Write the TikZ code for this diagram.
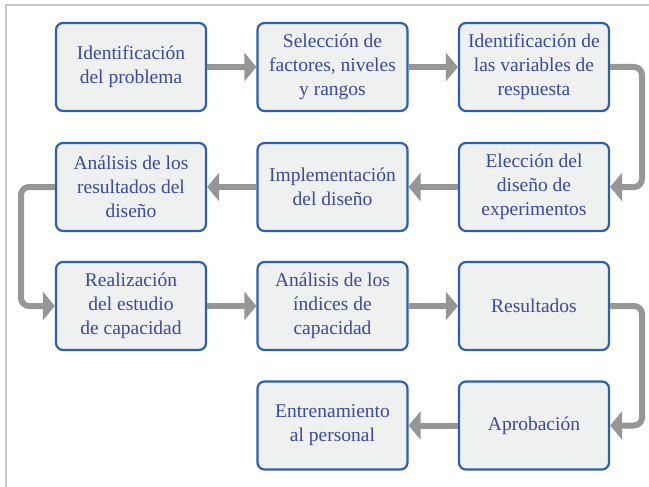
\documentclass[tikz,border=0pt]{standalone}
\usepackage{fontspec}
\setmainfont{Liberation Serif}
\usetikzlibrary{arrows.meta}
\definecolor{boxblue}{RGB}{45,95,175}
\definecolor{boxfill}{RGB}{239,241,241}
\definecolor{txtblue}{RGB}{58,74,158}
\definecolor{arrgray}{RGB}{150,150,150}
\definecolor{framegray}{RGB}{200,200,200}
\tikzset{
  stepbox/.style={draw=boxblue, line width=2.2pt, fill=boxfill, rounded corners=7pt,
    minimum width=150pt, minimum height=88pt, inner sep=0pt, align=center,
    text=txtblue, font=\fontsize{19.5}{24}\selectfont},
  flow/.style={draw=arrgray, line width=6pt, rounded corners=8pt,
    -{Triangle[length=12pt,width=28pt]}},
}
\begin{document}
\begin{tikzpicture}[x=1pt,y=-1pt]
\useasboundingbox (0,0) rectangle (649,487);
\draw[framegray, line width=1.5pt] (6,487) -- (6,5) -- (649,5);
\node[stepbox] (a1) at (131,67) {Identificación\\del problema};
\node[stepbox] (a2) at (332.5,67) {Selección de\\factores, niveles\\y rangos};
\node[stepbox] (a3) at (534,67) {Identificación de\\las variables de\\respuesta};
\node[stepbox] (b3) at (534,187) {Elección del\\diseño de\\experimentos};
\node[stepbox] (b2) at (332.5,187) {Implementación\\del diseño};
\node[stepbox] (b1) at (131,187) {Análisis de los\\resultados del\\diseño};
\node[stepbox] (c1) at (131,306) {Realización\\del estudio\\de capacidad};
\node[stepbox] (c2) at (332.5,306) {Análisis de los\\índices de\\capacidad};
\node[stepbox] (c3) at (534,306) {Resultados};
\node[stepbox] (d3) at (534,425.5) {Aprobación};
\node[stepbox] (d2) at (332.5,425.5) {Entrenamiento\\al personal};
\coordinate (r1) at (642,67);
\coordinate (r2) at (642,187);
\coordinate (l1) at (21,187);
\coordinate (l2) at (21,306);
\coordinate (r3) at (642,306);
\coordinate (r4) at (642,425.5);
\draw[flow] (a1) -- (a2);
\draw[flow] (a2) -- (a3);
\draw[flow] (a3.east) -- (r1) -- (r2) -- (b3.east);
\draw[flow] (b3) -- (b2);
\draw[flow] (b2) -- (b1);
\draw[flow] (b1.west) -- (l1) -- (l2) -- (c1.west);
\draw[flow] (c1) -- (c2);
\draw[flow] (c2) -- (c3);
\draw[flow] (c3.east) -- (r3) -- (r4) -- (d3.east);
\draw[flow] (d3) -- (d2);
\end{tikzpicture}
\end{document}
